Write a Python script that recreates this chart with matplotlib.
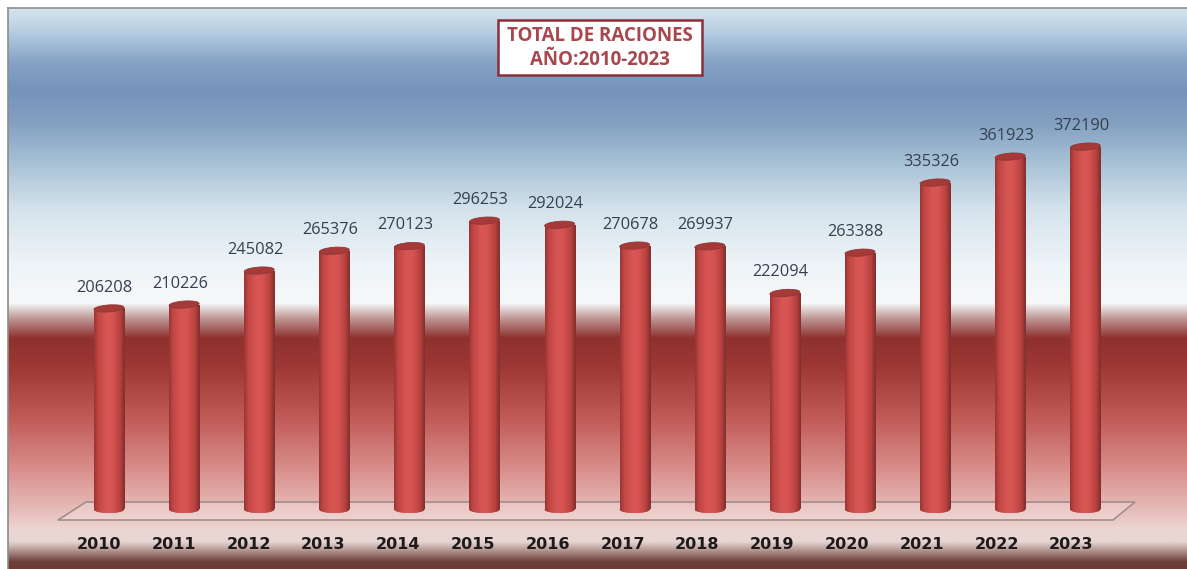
import numpy as np
import matplotlib
matplotlib.use("Agg")
import matplotlib.pyplot as plt
from matplotlib.colors import LinearSegmentedColormap
from matplotlib.patches import Ellipse, Polygon, Rectangle
from matplotlib.transforms import Affine2D, ScaledTranslation

years = ["2010", "2011", "2012", "2013", "2014", "2015", "2016",
         "2017", "2018", "2019", "2020", "2021", "2022", "2023"]
raciones = [206208, 210226, 245082, 265376, 270123, 296253, 292024,
            270678, 269937, 222094, 263388, 335326, 361923, 372190]
title_text = "TOTAL DE RACIONES\nAÑO:2010-2023"

W, H = 1187, 569
plt.rcParams['font.family'] = ['Open Sans', 'DejaVu Sans']

fig = plt.figure(figsize=(W / 100, H / 100), dpi=100, facecolor="white")

# background panel, in pixels
bg = fig.add_axes([0, 0, 1, 1])
bg.axis("off")

top, bottom = 8, H
stops = [(8, "#d6e5ee"), (30, "#b8d0e2"), (62, "#86a3c6"), (90, "#7592ba"),
         (125, "#85a2c2"), (165, "#aac3d7"), (210, "#d5e3ec"), (265, "#eef4f8"),
         (303, "#f7f8f9"), (318, "#c09a98"), (338, "#8f312e"), (365, "#9c3734"),
         (420, "#c25c59"), (470, "#d98f8c"), (510, "#e6bcb9"), (530, "#edd6d3"),
         (542, "#e6d6d2"), (552, "#ab8a85"), (562, "#6e3f3a"), (569, "#6a3d38")]
cmap = LinearSegmentedColormap.from_list(
    "panel", [((y - top) / (bottom - top), c) for y, c in stops], N=1024)
grad = np.linspace(0, 1, 1024).reshape(-1, 1)
bg.imshow(grad, cmap=cmap, extent=[8, W, bottom, top], aspect="auto", zorder=0,
          interpolation="bilinear")
bg.set_xlim(0, W)
bg.set_ylim(H, 0)
bg.plot([8, 8], [8, H], color="#8c8c8c", lw=1.2, zorder=1)
bg.plot([8, W], [8, 8], color="#8c8c8c", lw=1.2, zorder=1)

# floor of the 3D chart
bg.add_patch(Polygon([(58, 520), (86, 502), (1135, 502), (1113, 520)], closed=True,
                     fc=(1, 1, 1, 0.22), ec="#a08e8c", lw=1.2, zorder=2))

# title box
bg.add_patch(Rectangle((498, 20), 204, 55, fc="white", ec="#8a2f3a", lw=1.8, zorder=2))
bg.text(600, 48, title_text, ha="center", va="center", fontsize=13.5,
        fontweight="bold", color="#a8474e", linespacing=1.3, zorder=3)

# data axes over the same area
ax = fig.add_axes([0, 0, 1, 1])
ax.patch.set_alpha(0)
px_per_val = 0.000975
step = 75.1
x0_px = 109
base_px = 509.5
xlim = (-x0_px / step, (W - x0_px) / step)
ylim = (-(H - base_px) / px_per_val, base_px / px_per_val)
ax.set_xlim(xlim)
ax.set_ylim(ylim)
for s in ax.spines.values():
    s.set_visible(False)
ax.spines["bottom"].set_position(("data", 0))

xs = np.arange(len(years))
bar_w = 0.4
cap_h = 7 / px_per_val

cyl = LinearSegmentedColormap.from_list(
    "cyl", [(0, "#9a3533"), (0.12, "#bf4644"), (0.4, "#d85654"), (0.6, "#d65452"),
            (0.85, "#b8423f"), (1, "#7e302e")])
shade = np.linspace(0, 1, 64).reshape(1, -1)

bars = ax.bar(xs, raciones, width=bar_w, color="#c84b49", linewidth=0, zorder=3)

caps = []
for x, v, b in zip(xs, raciones, bars):
    low = Ellipse((x, 0), bar_w, cap_h, fc="#c84b49", ec="none", zorder=3)
    ax.add_patch(low)
    for patch in (b, low):
        im = ax.imshow(shade, cmap=cyl, aspect="auto", zorder=3.5,
                       extent=[x - bar_w / 2, x + bar_w / 2, -cap_h, v + cap_h])
        im.set_clip_path(patch)
    cap = Ellipse((x, v), bar_w, cap_h, fc="#a63a38", ec="#8f3836", lw=0.6, zorder=4)
    ax.add_patch(cap)
    caps.append(cap)
    ax.annotate(str(v), (x, v), xytext=(-3, 15), textcoords="offset points",
                ha="center", va="center", fontsize=11.8, color="#34404e", zorder=5)

ax.set_xlim(xlim)
ax.set_ylim(ylim)

# slight tilt of the caps, right side up
for cap in caps:
    cx, cy = ax.transData.transform(cap.get_center())
    cap.set_transform(ax.transData + Affine2D().rotate_deg_around(cx, cy, 4))

ax.set_yticks([])
ax.set_xticks(xs)
ax.set_xticklabels(years, fontsize=11.5, fontweight="bold", color="#1e1a1a",
                   family="DejaVu Sans")
ax.tick_params(axis="x", length=0, pad=20)
for i, lab in enumerate(ax.get_xticklabels()):
    dx = (-10 - 0.3 * i) / 100
    lab.set_transform(lab.get_transform() + ScaledTranslation(dx, 0, fig.dpi_scale_trans))

fig.savefig("out.png", dpi=100)
